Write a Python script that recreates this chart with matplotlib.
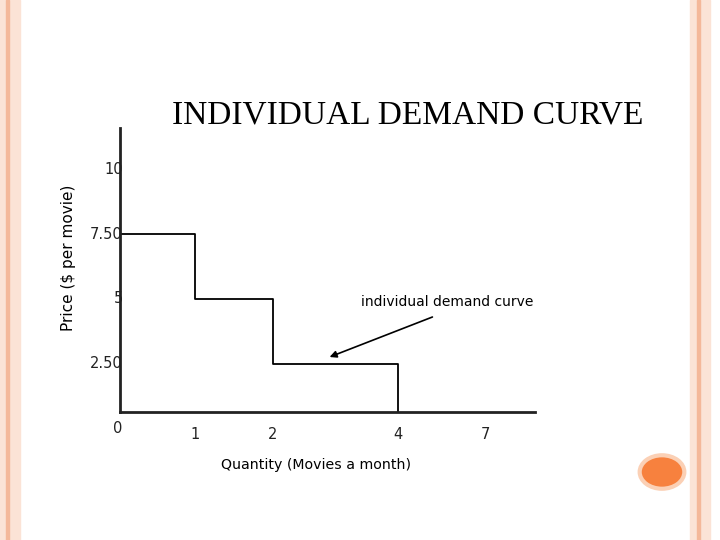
import numpy as np
import matplotlib.pyplot as plt
from matplotlib.patches import Circle, Rectangle

# demand schedule (step curve)
quantity = [0, 1, 2, 4]
price = [7.5, 5, 2.5, 0]
y_ticks = [10, 7.5, 5, 2.5, 0]
y_labels = ["10", "7.50", "5", "2.50", "0"]
x_ticks = [1, 2, 4, 7]

# horizontal placement of quantities on the slide's axis (not evenly spaced)
q_ref = [0, 1, 2, 4, 7]
q_pos = [0, 1.45, 2.95, 5.36, 7.04]
def xp(q):
    return np.interp(q, q_ref, q_pos)

fig = plt.figure(figsize=(7.2, 5.4), dpi=100)

# slide decorations
fig.patches.append(Rectangle((0.0, 0), 0.028, 1, transform=fig.transFigure, color="#fbe3d6", zorder=0))
fig.patches.append(Rectangle((0.008, 0), 0.004, 1, transform=fig.transFigure, color="#f4b89a", zorder=0))
fig.patches.append(Rectangle((0.958, 0), 0.028, 1, transform=fig.transFigure, color="#fbe3d6", zorder=0))
fig.patches.append(Rectangle((0.968, 0), 0.004, 1, transform=fig.transFigure, color="#f4b89a", zorder=0))
fig.patches.append(Circle((662 / 720, 1 - 472 / 540), 0.031, transform=fig.transFigure,
                          color="#f7813e", ec="#fbd0b5", lw=3, zorder=1))

ax = fig.add_axes([120 / 720, 1 - 412 / 540, 415 / 720, 284 / 540])
ax.set_xlim(0, 8)
ax.set_ylim(0.65, 11.58)
for s in ["top", "right"]:
    ax.spines[s].set_visible(False)
for s in ["left", "bottom"]:
    ax.spines[s].set_linewidth(2)
    ax.spines[s].set_color("#222222")
ax.set_xticks([])
ax.set_yticks([])

# step curve
xs, ys = [], []
for i, (q, p) in enumerate(zip(quantity, price)):
    if i + 1 < len(quantity):
        xs += [xp(q), xp(quantity[i + 1])]
        ys += [p, p]
xs.append(xp(quantity[-1]))
ys.append(price[-1])
ax.plot(xs, ys, color="black", lw=1.3, clip_on=True)

for v, lab in zip(y_ticks, y_labels):
    ax.text(0.05, v, lab, ha="right", va="center", fontsize=10.5, color="#222222", clip_on=False)
for q in x_ticks:
    ax.text(xp(q), -0.2, str(q), ha="center", va="center", fontsize=10.5, color="#222222", clip_on=False)

fig.text(408 / 720, 1 - 115 / 540, "INDIVIDUAL DEMAND CURVE", ha="center", va="center",
         fontsize=24, family="Liberation Serif")
fig.text(68 / 720, 1 - 258 / 540, "Price ($ per movie)", rotation=90, ha="center", va="center", fontsize=11)
fig.text(316 / 720, 1 - 465 / 540, "Quantity (Movies a month)", ha="center", va="center", fontsize=10.2)
fig.text(447 / 720, 1 - 302 / 540, "individual demand curve", ha="center", va="center", fontsize=10)
ax.annotate("", xy=(327 / 720, 1 - 358 / 540), xytext=(435 / 720, 1 - 316 / 540),
            xycoords="figure fraction", textcoords="figure fraction",
            arrowprops=dict(arrowstyle="-|>", color="black", lw=1.2))

fig.savefig("out.png", dpi=100)
